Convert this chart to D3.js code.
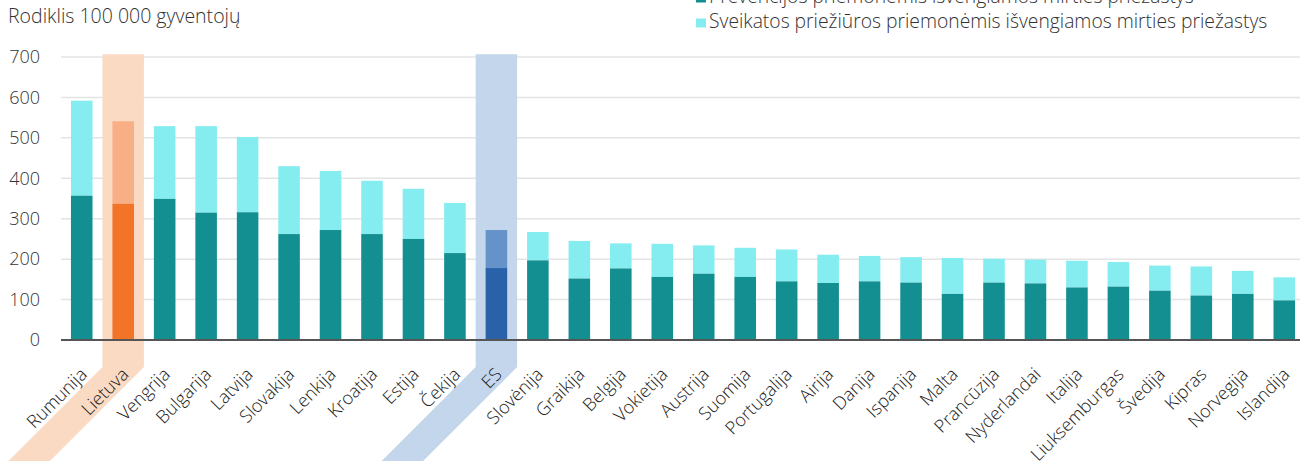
<!DOCTYPE html>
<html>
<head>
<meta charset="utf-8">
<script src="https://cdn.jsdelivr.net/npm/d3@7"></script>
<style>
    body { margin: 0; background: #fff; }
    svg { display: block; font-family: 'Open Sans', sans-serif; font-weight: 300; }
    .tick-label { font-size: 18px; fill: #333; }
    .x-label { font-size: 18px; fill: #222; }
    .title { font-size: 19.5px; fill: #333; }
    .legend text { font-size: 19.3px; fill: #333; }
</style>
</head>
<body>
<div id="vis"></div>
<script>
var countries = ['Rumunija', 'Lietuva', 'Vengrija', 'Bulgarija', 'Latvija', 'Slovakija', 'Lenkija',
    'Kroatija', 'Estija', 'Čekija', 'ES', 'Slovėnija', 'Graikija', 'Belgija', 'Vokietija', 'Austrija',
    'Suomija', 'Portugalija', 'Airija', 'Danija', 'Ispanija', 'Malta', 'Prancūzija', 'Nyderlandai',
    'Italija', 'Liuksemburgas', 'Švedija', 'Kipras', 'Norvegija', 'Islandija'];

// prevencijos priemonemis isvengiamos mirtys
var preventable = [357, 337, 349, 315, 316, 262, 272, 262, 250, 215, 178, 197, 152, 177, 156, 164,
    156, 145, 141, 145, 142, 114, 142, 140, 130, 132, 122, 110, 114, 98];
// sveikatos prieziuros priemonemis isvengiamos mirtys (viso stulpelio aukstis)
var totals = [592, 541, 529, 529, 502, 430, 418, 394, 374, 339, 272, 267, 245, 239, 238, 234,
    228, 224, 211, 208, 205, 203, 201, 199, 196, 193, 184, 182, 171, 155];

var yTicks = [0, 100, 200, 300, 400, 500, 600, 700];
var legendLabels = ['Prevencijos priemonėmis išvengiamos mirties priežastys',
    'Sveikatos priežiūros priemonėmis išvengiamos mirties priežastys'];

var highlights = {'Lietuva': 'lt', 'ES': 'es'};

var colors = {
    normal: ['#138f91', '#85edf0'],
    lt: ['#f37329', '#f8af86'],
    es: ['#2a62aa', '#6592c9']
};
var bandColors = { lt: '#fbdac3', es: '#c4d6ec' };

var width = 1300;
var height = 461;
var margin = { left: 61, right: -5, top: 57, bottom: 121 };
var drawWidth = width - margin.left - margin.right;
var drawHeight = height - margin.top - margin.bottom;

var svg = d3.select('#vis')
    .append('svg')
    .attr('width', width)
    .attr('height', height);

var g = svg.append('g')
    .attr('transform', 'translate(' + margin.left + ',' + margin.top + ')');

var xScale = d3.scaleBand()
    .domain(countries)
    .range([0, drawWidth])
    .paddingInner(0.48)
    .paddingOuter(0.24);

var yScale = d3.scaleLinear()
    .domain([0, 700])
    .range([drawHeight, 0]);

// gridlines
g.append('g')
    .selectAll('line')
    .data(yTicks.slice(1))
    .enter().append('line')
    .attr('x1', 0)
    .attr('x2', drawWidth)
    .attr('y1', d => yScale(d))
    .attr('y2', d => yScale(d))
    .style('stroke', '#e4e4e4')
    .style('stroke-width', 1.5);

// highlight bands (column + diagonal label strip)
var step = xScale.step();
Object.keys(highlights).forEach(function(c) {
    var x0 = xScale(c) + xScale.bandwidth() / 2 - step / 2;
    var x1 = x0 + step;
    var top = yScale(707);
    var bend = drawHeight + 27;
    var drop = 300;
    var pts = [[x0, top], [x1, top], [x1, bend], [x1 - drop, bend + drop], [x0 - drop, bend + drop], [x0, bend]];
    g.append('polygon')
        .attr('points', pts.map(p => p.join(',')).join(' '))
        .style('fill', bandColors[highlights[c]]);
});

// bars
var rows = countries.map(function(c, i) {
    return { country: c, prev: preventable[i], total: totals[i], kind: highlights[c] || 'normal' };
});

var bars = g.selectAll('.bar').data(rows).enter().append('g').attr('class', 'bar');

bars.append('rect')
    .attr('x', d => xScale(d.country))
    .attr('width', xScale.bandwidth())
    .attr('y', d => yScale(d.total))
    .attr('height', d => yScale(d.prev) - yScale(d.total))
    .style('fill', d => colors[d.kind][1]);

bars.append('rect')
    .attr('x', d => xScale(d.country))
    .attr('width', xScale.bandwidth())
    .attr('y', d => yScale(d.prev))
    .attr('height', d => drawHeight - yScale(d.prev))
    .style('fill', d => colors[d.kind][0]);

// zero axis line
g.append('line')
    .attr('x1', 0)
    .attr('x2', drawWidth)
    .attr('y1', drawHeight)
    .attr('y2', drawHeight)
    .style('stroke', '#555')
    .style('stroke-width', 2);

// y tick labels
g.append('g')
    .selectAll('text')
    .data(yTicks)
    .enter().append('text')
    .attr('class', 'tick-label')
    .attr('x', -21)
    .attr('y', d => yScale(d))
    .attr('dy', '0.35em')
    .style('text-anchor', 'end')
    .text(d => d);

// x labels
g.append('g')
    .selectAll('text')
    .data(countries)
    .enter().append('text')
    .attr('class', 'x-label')
    .attr('transform', d => 'translate(' + (xScale(d) + xScale.bandwidth() / 2 + 2) + ',' + (drawHeight + 31) + ') rotate(-45)')
    .attr('x', 0)
    .attr('dy', '0.35em')
    .style('text-anchor', 'end')
    .text(d => d);

svg.append('text')
    .attr('class', 'title')
    .attr('x', 8)
    .attr('y', 23)
    .text('Rodiklis 100 000 gyventojų');

// legend
var legend = svg.selectAll('.legend')
    .data(legendLabels)
    .enter().append('g')
    .attr('class', 'legend')
    .attr('transform', (d, i) => 'translate(696,' + (2.5 + i * 25) + ')');

legend.append('rect')
    .attr('x', 0)
    .attr('y', -9)
    .attr('width', 10)
    .attr('height', 9)
    .style('fill', (d, i) => colors.normal[i]);

legend.append('text')
    .attr('x', 13)
    .attr('y', 0)
    .text(d => d);
</script>
</body>
</html>
